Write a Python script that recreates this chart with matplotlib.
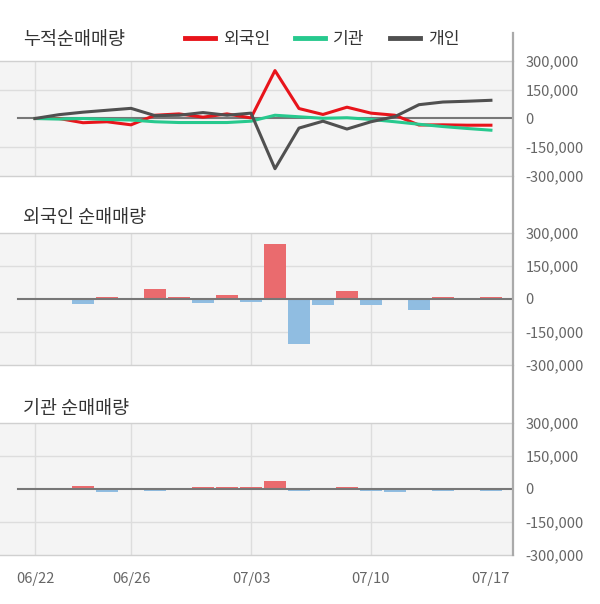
import numpy as np
import matplotlib.pyplot as plt
from matplotlib.lines import Line2D

plt.rcParams['font.family'] = ['Noto Sans CJK KR', 'DejaVu Sans']

# ---- data ----
dates = ['06/22', '06/23', '06/24', '06/25', '06/26', '06/29', '06/30', '07/01', '07/02', '07/03',
         '07/06', '07/07', '07/08', '07/09', '07/10', '07/13', '07/14', '07/15', '07/16', '07/17']

# cumulative net buying
cum_foreign = [0, 0, -22000, -17000, -33000, 17000, 24000, 7000, 24000, 3000,
               250000, 52000, 21000, 59000, 28000, 17000, -34000, -33000, -35000, -35000]
cum_inst = [0, -3000, 0, -5000, -8000, -17000, -21000, -21000, -21000, -14000,
            17000, 9000, 1000, 4000, -5000, -17000, -30000, -42000, -52000, -61000]
cum_indiv = [0, 20000, 33000, 43000, 53000, 15000, 17000, 31000, 17000, 28000,
             -262000, -50000, -14000, -55000, -17000, 10000, 72000, 86000, 90000, 95000]

# daily net buying
foreign_daily = [0, 0, -24000, 8000, 0, 47000, 8000, -20000, 20000, -12000,
                 248000, -206000, -29000, 35000, -29000, 0, -52000, 8000, 0, 8000]
inst_daily = [0, 0, 12000, -12000, 0, -7000, 0, 8000, 8000, 8000,
              38000, -7000, 0, 8000, -7000, -12000, 0, -7000, 0, -7000]

tick_idx = [0, 4, 9, 14, 19]
grid_idx = [0, 4, 9, 14]
yticks = [-300000, -150000, 0, 150000, 300000]

W, H = 600, 604
fig = plt.figure(figsize=(W / 100, H / 100), dpi=100)

x = np.arange(len(dates))
xlim = (-1.46, 19.92)

def make_ax(top, bottom):
    ax = fig.add_axes([0, 1 - bottom / H, 513 / W, (bottom - top) / H])
    ax.set_facecolor('#f4f4f4')
    ax.set_xlim(*xlim)
    ax.set_ylim(-300000, 300000)
    for s in ['left', 'right']:
        ax.spines[s].set_visible(False)
    for s in ['top', 'bottom']:
        ax.spines[s].set_color('#d0d0d0')
        ax.spines[s].set_linewidth(1)
    ax.yaxis.tick_right()
    ax.set_yticks(yticks)
    ax.set_yticklabels([f'{v:,}' for v in yticks])
    ax.tick_params(axis='y', length=0, pad=9, labelsize=10.5, labelcolor='#666666')
    ax.set_xticks(tick_idx)
    ax.tick_params(axis='x', length=0)
    for v in [-150000, 150000]:
        ax.axhline(v, color='#dddddd', lw=1, zorder=0)
    for i in grid_idx:
        ax.axvline(i, color='#dddddd', lw=1, zorder=0)
    ax.axhline(0, xmin=18 / 513, xmax=1, color='#777777', lw=1.5, zorder=3)
    return ax

ax1 = make_ax(61, 176)
ax2 = make_ax(233, 365)
ax3 = make_ax(423, 555)

l1, = ax1.plot(x, cum_foreign, color='#e8141b', lw=2.2, zorder=4, label='외국인')
l2, = ax1.plot(x, cum_inst, color='#27c98e', lw=2.2, zorder=4, label='기관')
l3, = ax1.plot(x, cum_indiv, color='#505050', lw=2.2, zorder=4, label='개인')

def bars(ax, vals):
    vals = np.array(vals)
    colors = ['#ea6b6e' if v >= 0 else '#90bde1' for v in vals]
    ax.bar(x, vals, width=0.95, color=colors, zorder=2)

bars(ax2, foreign_daily)
bars(ax3, inst_daily)

for ax in [ax1, ax2]:
    ax.set_xticklabels([])
ax3.set_xticklabels([dates[i] for i in tick_idx])
ax3.tick_params(axis='x', pad=12, labelsize=10.5, labelcolor='#666666')

# titles
fig.text(23 / W, 1 - 40 / H, '누적순매매량', fontsize=13.3, color='#333333', va='center')
fig.text(23 / W, 1 - 218 / H, '외국인 순매매량', fontsize=13.3, color='#333333', va='center')
fig.text(23 / W, 1 - 409 / H, '기관 순매매량', fontsize=13.3, color='#333333', va='center')

fig.legend(handles=[l1, l2, l3], loc='center left', bbox_to_anchor=(185 / W, 1 - 39 / H),
           ncol=3, frameon=False, fontsize=12.3, handlelength=1.75, handletextpad=0.45,
           columnspacing=1.5, labelcolor='#333333', borderpad=0, borderaxespad=0)
for h in fig.legends[0].legend_handles:
    h.set_linewidth(3.5)

# right axis line
fig.add_artist(Line2D([513 / W, 513 / W], [1 - 33 / H, 1 - 555 / H], color='#aaaaaa', lw=1.6))

fig.savefig('out.png', dpi=100)
